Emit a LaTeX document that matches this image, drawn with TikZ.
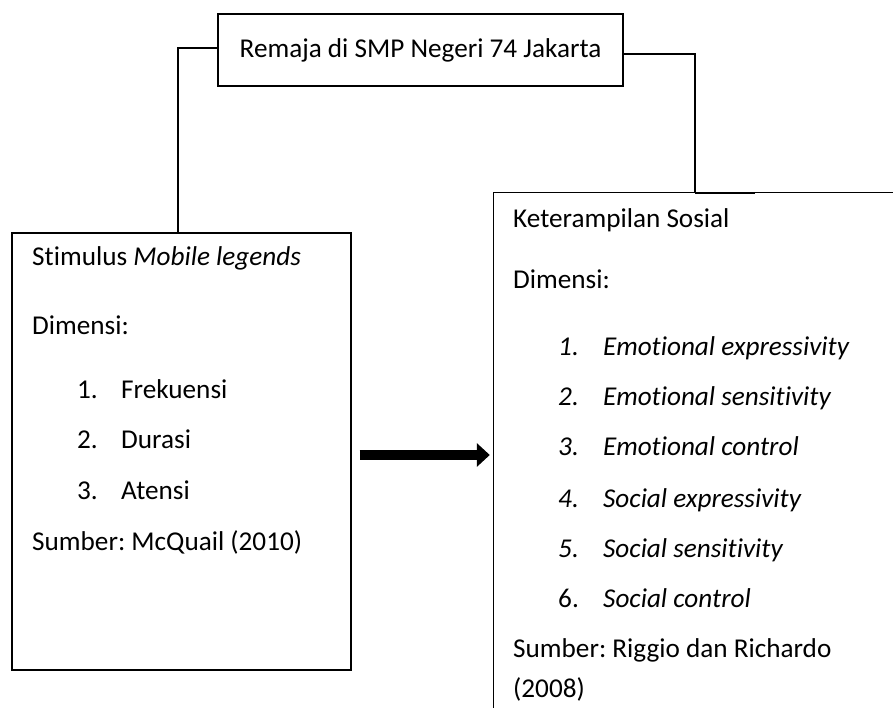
\documentclass[tikz,border=0pt]{standalone}
\usepackage{fontspec}
\setmainfont{Carlito}[Ligatures=NoCommon]
\usetikzlibrary{arrows.meta}
\begin{document}
\begin{tikzpicture}[x=1pt,y=-1pt, font=\fontsize{27.2}{33}\selectfont\frenchspacing,
  box/.style={draw, line width=1.1pt, inner sep=0pt},
  txt/.style={anchor=base west, inner sep=0pt},
  conn/.style={draw, line width=1.1pt},
  joint/.style={draw, line width=1.9pt},
  bigarrow/.style={line width=10pt, -{Triangle[length=13pt,width=23pt]}}]
\useasboundingbox[fill=white] (0,0) rectangle (893,708);
\node[box, minimum width=405pt, minimum height=72pt] (top) at (420.5,50) {Remaja di SMP Negeri 74 Jakarta};
\node[box, minimum width=339pt, minimum height=437pt] (lbox) at (181.5,451.5) {};
\node[inner sep=0pt, minimum width=402pt, minimum height=519pt] (rbox) at (695,452.5) {};
\draw[conn] (rbox.north east) -- (rbox.north west) -- (rbox.south west);
\draw[conn] ([yshift=2pt]top.west) -| ([xshift=-3.5pt]lbox.north);
\draw[conn] ([yshift=-4pt]top.east) -| (rbox.north);
\draw[joint] (rbox.north) -- ++(60,0);
\coordinate (ay) at (0,455);
\draw[bigarrow, shorten <=8pt, shorten >=4pt] (lbox.east |- ay) -- (rbox.west |- ay);
% left texts
\node[txt] (l1) at (32,266) {Stimulus \textit{Mobile legends}};
\node[txt] (l2) at (32,334) {Dimensi:};
\node[txt] (l3) at (77,398) {\makebox[44pt][l]{1.}Frekuensi};
\node[txt] (l4) at (77,448) {\makebox[44pt][l]{2.}Durasi};
\node[txt] (l5) at (77,499) {\makebox[44pt][l]{3.}Atensi};
\node[txt] (l6) at (32,550) {Sumber: McQuail (2010)};
% right texts
\node[txt] (r1) at (513,228) {Keterampilan Sosial};
\node[txt] (r2) at (513,288) {Dimensi:};
\node[txt] (r3) at (558,355) {\itshape\makebox[45pt][l]{1.}Emotional expressivity};
\node[txt] (r4) at (558,405) {\itshape\makebox[45pt][l]{2.}Emotional sensitivity};
\node[txt] (r5) at (558,455) {\itshape\makebox[45pt][l]{3.}Emotional control};
\node[txt] (r6) at (558,507) {\itshape\makebox[45pt][l]{4.}Social expressivity};
\node[txt] (r7) at (558,557) {\itshape\makebox[45pt][l]{5.}Social sensitivity};
\node[txt] (r8) at (558,607) {\makebox[45pt][l]{6.}\textit{Social control}};
\node[txt] (r9) at (513,657) {Sumber: Riggio dan Richardo};
\node[txt] (r10) at (513,697) {(2008)};
\end{tikzpicture}
\end{document}
